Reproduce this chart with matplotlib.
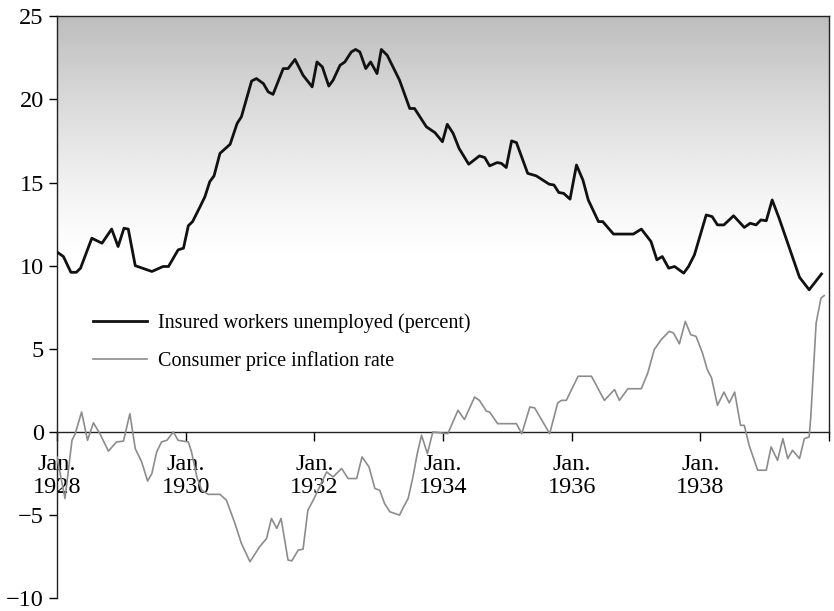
import numpy as np
import matplotlib.pyplot as plt
from matplotlib.colors import LinearSegmentedColormap

plt.rcParams['font.family'] = ['Liberation Serif', 'DejaVu Serif']

# months counted from Jan. 1928
unemp_month = [0.1, 1.2, 2.6, 3.6, 4.4, 6.5, 8.4, 10.2, 11.4, 12.5, 13.3, 14.6, 17.7,
               19.8, 20.8, 22.6, 23.6, 24.5, 25.3, 26.7, 27.6, 28.5, 29.3, 30.4, 32.3,
               33.6, 34.4, 36.3, 37.2, 38.5, 39.4, 40.3, 42.2, 43.1, 44.4, 45.9, 47.6,
               48.5, 49.5, 50.7, 51.5, 52.8, 53.7, 54.9, 55.7, 56.5, 57.6, 58.5, 59.7,
               60.5, 61.6, 63.9, 65.8, 66.7, 68.9, 70.5, 71.9, 72.8, 73.9, 75.0, 76.8,
               78.8, 79.8, 80.7, 82.1, 82.9, 83.8, 84.8, 85.7, 87.8, 89.4, 90.6, 91.8,
               92.7, 93.6, 94.5, 95.7, 96.9, 98.1, 99.1, 101.0, 101.8, 103.8, 107.5,
               109.0, 110.8, 111.9, 112.9, 114.1, 115.2, 116.9, 117.8, 118.9, 121.1,
               122.2, 123.2, 124.4, 126.2, 128.2, 129.3, 130.4, 131.3, 132.3, 133.4,
               134.7, 138.5, 140.3, 142.6]
unemp_pct = [10.8, 10.55, 9.6, 9.6, 9.85, 11.65, 11.35, 12.2, 11.15, 12.25, 12.2, 10.0,
             9.65, 9.95, 9.95, 10.95, 11.05, 12.4, 12.65, 13.55, 14.15, 15.05, 15.4,
             16.75, 17.3, 18.55, 18.95, 21.1, 21.25, 20.95, 20.45, 20.3, 21.85, 21.85,
             22.4, 21.45, 20.75, 22.25, 21.95, 20.8, 21.15, 22.05, 22.25, 22.85, 23.0,
             22.85, 21.85, 22.25, 21.55, 23.0, 22.65, 21.15, 19.45, 19.45, 18.35, 18.0,
             17.45, 18.5, 17.95, 17.05, 16.1, 16.6, 16.5, 16.0, 16.2, 16.15, 15.9, 17.5,
             17.4, 15.55, 15.4, 15.15, 14.9, 14.85, 14.4, 14.35, 14.0, 16.05, 15.15,
             13.95, 12.65, 12.65, 11.9, 11.9, 12.2, 11.45, 10.35, 10.55, 9.85, 9.95,
             9.55, 9.95, 10.65, 13.05, 12.95, 12.45, 12.45, 13.0, 12.3, 12.55, 12.45,
             12.75, 12.7, 13.95, 12.85, 9.3, 8.55, 9.5]

infl_month = [0.0, 1.5, 2.8, 3.4, 4.6, 5.7, 6.8, 8.0, 9.6, 11.1, 12.4, 13.6, 14.6,
              15.8, 16.9, 17.7, 18.6, 19.5, 20.5, 21.7, 22.6, 24.5, 25.1, 26.1, 27.0,
              28.2, 30.4, 31.6, 33.2, 34.4, 36.0, 37.8, 39.1, 40.0, 41.0, 41.8, 43.1,
              43.8, 45.0, 45.9, 46.8, 47.8, 48.4, 49.0, 50.3, 51.5, 53.1, 54.3, 55.9,
              56.9, 58.2, 59.3, 60.2, 61.1, 62.1, 63.9, 64.5, 65.5, 66.4, 67.2, 68.0,
              69.1, 70.1, 72.9, 74.8, 76.0, 77.9, 78.8, 80.1, 80.7, 82.2, 85.7, 86.7,
              88.2, 89.1, 91.9, 93.4, 94.1, 95.0, 97.2, 99.7, 102.1, 104.0, 104.9,
              106.5, 109.0, 110.2, 111.4, 112.7, 114.2, 115.0, 116.1, 117.2, 118.2,
              119.2, 120.4, 121.3, 122.1, 123.2, 124.4, 125.4, 126.4, 127.5, 128.2,
              129.1, 130.7, 132.3, 133.2, 134.4, 135.4, 136.3, 137.2, 138.5, 139.4,
              140.3, 140.6, 141.6, 142.5, 143.1]
infl_rate = [-1.5, -4.0, -0.5, -0.1, 1.2, -0.5, 0.55, -0.1, -1.15, -0.6, -0.55, 1.1,
             -1.0, -1.8, -2.95, -2.5, -1.2, -0.6, -0.5, 0.0, -0.5, -0.6, -1.2, -2.7,
             -3.5, -3.75, -3.75, -4.1, -5.5, -6.7, -7.8, -6.9, -6.4, -5.2, -5.8, -5.2,
             -7.7, -7.75, -7.1, -7.05, -4.7, -4.1, -3.7, -3.3, -2.4, -2.7, -2.2, -2.8,
             -2.8, -1.5, -2.1, -3.4, -3.5, -4.3, -4.8, -5.0, -4.6, -4.0, -2.7, -1.3,
             -0.2, -1.3, 0.0, -0.1, 1.3, 0.75, 2.1, 1.9, 1.25, 1.2, 0.5, 0.5, -0.1,
             1.5, 1.45, -0.1, 1.75, 1.9, 1.9, 3.35, 3.35, 1.9, 2.55, 1.9, 2.6, 2.6,
             3.55, 4.95, 5.55, 6.05, 5.95, 5.3, 6.65, 5.85, 5.75, 4.75, 3.75, 3.25,
             1.6, 2.4, 1.75, 2.4, 0.4, 0.4, -0.8, -2.3, -2.3, -0.9, -1.7, -0.4, -1.6,
             -1.1, -1.6, -0.4, -0.3, 0.9, 6.55, 8.05, 8.2]

year_ticks = [1928, 1930, 1932, 1934, 1936, 1938, 1940]
year_labels = ['Jan.\n1928', 'Jan.\n1930', 'Jan.\n1932', 'Jan.\n1934',
               'Jan.\n1936', 'Jan.\n1938', '']
value_ticks = [-10, -5, 0, 5, 10, 15, 20, 25]

unemp_x = 1928 + np.array(unemp_month) / 12
infl_x = 1928 + np.array(infl_month) / 12

fig = plt.figure(figsize=(8.34, 6.11), dpi=100, facecolor='white')
ax = fig.add_axes([0.0683, 0.0208, 0.9257, 0.9527])

# shaded band fading downwards from the top
yy = np.linspace(25, 9, 300)
shade = np.clip((yy - 10.5) / 14.5, 0, 1) ** 1.3
cmap = LinearSegmentedColormap.from_list('fade', ['white', '#bdbdbd'])
ax.imshow(shade[:, None], extent=[1928, 1940, 9, 25], aspect='auto', cmap=cmap,
          vmin=0, vmax=1, zorder=0, interpolation='bilinear')

ax.plot(unemp_x, unemp_pct, color='#111111', lw=2.0, zorder=3,
        label='Insured workers unemployed (percent)')
ax.plot(infl_x, infl_rate, color='#8c8c8c', lw=1.2, zorder=3,
        label='Consumer price inflation rate')

ax.set_xlim(1928, 1940)
ax.set_ylim(-10, 25)

ax.spines['bottom'].set_position(('data', 0))
ax.spines['right'].set_bounds(0, 25)
for s in ax.spines.values():
    s.set_linewidth(1.0)
    s.set_color('#222222')

ax.set_yticks(value_ticks)
ax.set_yticklabels([str(v).replace('-', '\u2212') for v in value_ticks])
ax.set_xticks(year_ticks)
ax.set_xticklabels(year_labels, linespacing=1.15)
ax.tick_params(axis='y', direction='out', length=6, width=1, pad=3.5, labelsize=17.5)
ax.tick_params(axis='x', direction='out', length=6.5, width=1, pad=9, labelsize=17.5)

leg = ax.legend(loc='upper left', bbox_to_anchor=(0.036, 0.504), frameon=False,
                fontsize=14.5, handlelength=2.7, handletextpad=0.55, labelspacing=0.92,
                borderaxespad=0)

plt.savefig('out.png', dpi=100, facecolor='white')
plt.close()
